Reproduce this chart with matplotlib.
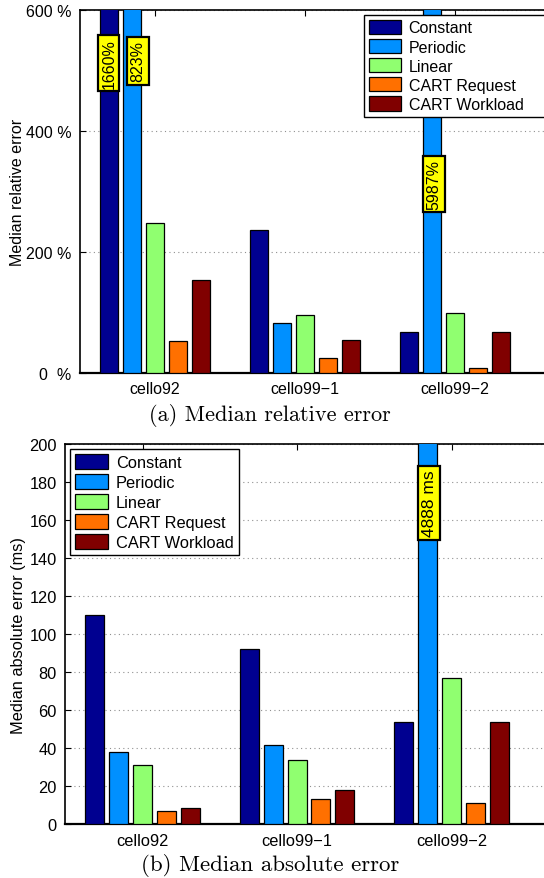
import matplotlib
matplotlib.use("Agg")
import matplotlib.pyplot as plt
import numpy as np

plt.rcParams['font.family'] = ['Liberation Sans', 'DejaVu Sans']

categories = ["cello92", "cello99\u22121", "cello99\u22122"]
series = ["Constant", "Periodic", "Linear", "CART Request", "CART Workload"]
colors = ["#000090", "#0090ff", "#90ff70", "#ff7000", "#800000"]

# relative error (%), per series, per category
rel_constant = [1660, 237, 68]
rel_periodic = [823, 83, 5987]
rel_linear = [248, 96, 100]
rel_cart_req = [53, 24, 8]
rel_cart_wl = [154, 55, 68]

# absolute error (ms)
abs_constant = [110, 92, 54]
abs_periodic = [38, 41.5, 4888]
abs_linear = [31, 34, 77]
abs_cart_req = [7, 13.5, 11]
abs_cart_wl = [8.7, 18.3, 54]

rel_ticks = [0, 200, 400, 600]
rel_ticklabels = ["0  %", "200 %", "400 %", "600 %"]
abs_ticks = list(range(0, 201, 20))

rel_data = [rel_constant, rel_periodic, rel_linear, rel_cart_req, rel_cart_wl]
abs_data = [abs_constant, abs_periodic, abs_linear, abs_cart_req, abs_cart_wl]

W, H = 544, 879
fig = plt.figure(figsize=(W / 100, H / 100), dpi=100)


def px_axes(left, top, right, bottom):
    return fig.add_axes([left / W, 1 - bottom / H, (right - left) / W, (bottom - top) / H])


stride = 0.77 / 5
bw = stride * 0.8
x = np.arange(1, 4)


def draw(ax, data, fs, ymax):
    for i, (vals, c, name) in enumerate(zip(data, colors, series)):
        off = (i - 2) * stride
        ax.bar(x + off, np.minimum(vals, ymax * 1.5), width=bw, color=c,
               edgecolor='black', linewidth=0.9, label=name, zorder=3)
    ax.set_xlim(0.5, 3.8)
    ax.set_ylim(0, ymax)
    ax.set_xticks(x)
    ax.set_xticklabels(categories, fontsize=fs)
    ax.tick_params(direction='in', top=True, right=True, length=4, width=0.8,
                   labelsize=fs, pad=6)
    ax.yaxis.grid(True, linestyle=(0, (1, 3)), color='#909090', linewidth=0.8, zorder=0)
    ax.set_axisbelow(True)
    for s in ax.spines.values():
        s.set_linewidth(1.2)
    ax.spines['bottom'].set_linewidth(1.6)


# ---- top panel ----
ax1 = px_axes(80, 11, 80 + 3.3 * 150, 374)
draw(ax1, rel_data, 11.5, 600)
ax1.set_yticks(rel_ticks)
ax1.set_yticklabels(rel_ticklabels)
ax1.set_ylabel("Median relative error", fontsize=11.5)
ax1.yaxis.set_label_coords(-55 / (3.3 * 150), 0.5)
leg1 = ax1.legend(loc='upper left', bbox_to_anchor=(364 / W, 1 - 16 / H, 200 / W, 0),
                  bbox_transform=fig.transFigure, fontsize=11.5, frameon=True, mode='expand',
                  fancybox=False, framealpha=1, edgecolor='black', borderaxespad=0,
                  handlelength=2.0, handleheight=1.0, labelspacing=0.22,
                  borderpad=0.3, handletextpad=0.5)
leg1.get_frame().set_linewidth(1.0)
leg1.set_zorder(10)

box = dict(boxstyle='square,pad=0.2', facecolor='#ffff00', edgecolor='black', linewidth=1.6)
ax1.text(1 - 2 * stride, 513, "%d%%" % rel_constant[0], rotation=90, ha='center', va='center',
         fontsize=11.5, bbox=box, zorder=6)
ax1.text(1 - 1 * stride + 0.04, 516, "%d%%" % rel_periodic[0], rotation=90, ha='center', va='center',
         fontsize=11.5, bbox=box, zorder=6)
ax1.text(3 - 1 * stride + 0.015, 312, "%d%%" % rel_periodic[2], rotation=90, ha='center', va='center',
         fontsize=11.5, bbox=box, zorder=6)

fig.text(270 / W, 1 - 416 / H, "(a) Median relative error", family='cmr10',
         fontsize=16, ha='center', va='center')

# ---- bottom panel ----
ax2 = px_axes(65.3, 445, 65.3 + 3.3 * 154.5, 825.3)
draw(ax2, abs_data, 11.8, 200)
ax2.set_yticks(abs_ticks)
ax2.set_ylabel("Median absolute error (ms)", fontsize=11.8)
ax2.yaxis.set_label_coords(-39 / (3.3 * 154.5), 0.5)
leg2 = ax2.legend(loc='upper left', bbox_to_anchor=(70 / W, 1 - 450 / H),
                  bbox_transform=fig.transFigure, fontsize=11.8, frameon=True,
                  fancybox=False, framealpha=1, edgecolor='black', borderaxespad=0,
                  handlelength=2.0, handleheight=1.0, labelspacing=0.25,
                  borderpad=0.3, handletextpad=0.5)
leg2.get_frame().set_linewidth(1.0)
leg2.set_zorder(10)
ax2.text(3 - 1 * stride + 0.01, 169, "%d ms" % abs_periodic[2], rotation=90, ha='center', va='center',
         fontsize=12.5, bbox=box, zorder=6)

fig.text(270 / W, 1 - 866 / H, "(b) Median absolute error", family='cmr10',
         fontsize=16.5, ha='center', va='center')

fig.savefig("out.png", dpi=100)
